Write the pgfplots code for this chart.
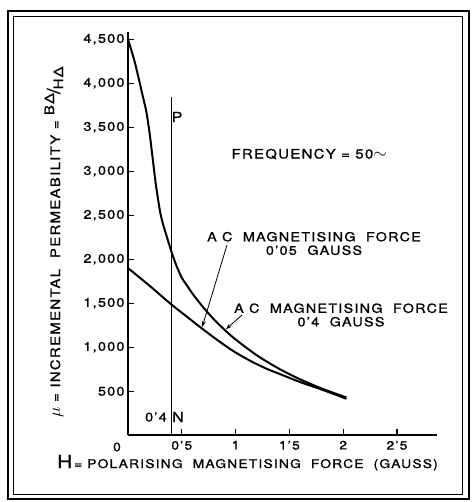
\documentclass[border=0pt]{standalone}
\usepackage{fontspec}
\setmainfont[FakeStretch=1.15,LetterSpace=10,FakeBold=1]{TeX Gyre Heros}
\usepackage{pgfplots}
\pgfplotsset{compat=1.18}
\usetikzlibrary{arrows.meta}
\begin{document}
\begin{tikzpicture}
\useasboundingbox (0,0) rectangle (471pt,-502pt);
\draw[line width=2pt] (8pt,-11pt) rectangle (469pt,-499pt);
\draw[line width=1pt] (13.5pt,-16.5pt) rectangle (462.5pt,-494.5pt);
\begin{axis}[
 at={(128pt,-435.3pt)}, anchor=south west,
 width=309pt, height=403.3pt, scale only axis,
 xmin=0, xmax=2.872, ymin=0, ymax=4583,
 axis x line=bottom, axis y line=left,
 axis line style={line width=2pt,-},
 xtick={0.5,1,1.5,2,2.5}, xticklabels={0’5,1,1’5,2,2’5},
 ytick={500,1000,...,4500},
 yticklabels={500,{1,000},{1,500},{2,000},{2,500},{3,000},{3,500},{4,000},{4,500}},
 tick align=inside, major tick length=6pt,
 tick style={line width=1.2pt,black},
 xticklabel style={font=\fontsize{12}{14}\selectfont, yshift=-2pt},
 yticklabel style={font=\fontsize{12.5}{15}\selectfont},
 clip=false,
]
% AC magnetising force 0.05 gauss (upper curve)
\addplot[line width=2pt, smooth] coordinates {
(0,4500) (0.065,4230) (0.14,3840) (0.17,3680) (0.20,3440) (0.23,3140)
(0.26,2840) (0.30,2530) (0.33,2380) (0.35,2300) (0.39,2140) (0.44,1960)
(0.50,1790) (0.55,1700) (0.60,1609) (0.70,1453) (0.80,1316) (0.90,1196)
(1.00,1089) (1.20,907) (1.40,759) (1.60,636) (1.80,532) (2.03,430)};
% AC magnetising force 0.4 gauss (lower curve)
\addplot[line width=2pt, smooth] coordinates {
(0,1900) (0.20,1700) (0.39,1500) (0.55,1345) (0.67,1230) (0.80,1110)
(0.95,980) (1.05,905) (1.17,825) (1.30,750) (1.41,697) (1.60,605)
(1.80,520) (2.03,415)};
% line PN
\addplot[line width=0.8pt] coordinates {(0.4,0) (0.4,3840)};
\draw[-{Stealth[length=6pt,width=4pt]}, line width=0.8pt] (axis cs:0.92,2162) -- (axis cs:0.69,1232);
\draw[-{Stealth[length=6pt,width=4pt]}, line width=0.8pt] (axis cs:1.06,1367) -- (axis cs:0.91,1205);
\end{axis}
\node[font=\fontsize{12}{14}\selectfont] at (117pt,-447pt) {0};
\node[font=\fontsize{14}{16}\selectfont] at (177pt,-117pt) {P};
\node[font=\fontsize{12.5}{15}\selectfont] at (156pt,-417pt) {0’4};
\node[font=\fontsize{14}{16}\selectfont] at (178pt,-417pt) {N};
\node[anchor=west, font=\fontsize{13}{15}\selectfont] at (228pt,-154pt) {FREQUENCY = 50{\fontsize{16}{16}\selectfont$\sim$}};
\node[font=\fontsize{12.5}{13.5}\selectfont, align=center, inner sep=0pt] at (314pt,-243.5pt) {A C\ \ MAGNETISING\ \ FORCE\\0’05\ \ GAUSS};
\node[font=\fontsize{12.5}{13.5}\selectfont, align=center, inner sep=0pt] at (341pt,-315pt) {A C\ \ MAGNETISING\ \ FORCE\\0’4\ \ GAUSS};
\node[anchor=base, font=\fontsize{12}{15}\selectfont] at (247.5pt,-468pt) {{\fontsize{18}{20}\selectfont H}\,= POLARISING\ \ MAGNETISING\ \ FORCE\ \ (GAUSS)};
\node[anchor=base, rotate=90, font=\fontsize{13}{16}\selectfont] at (60pt,-242pt) {{\fontsize{17}{18}\selectfont$\mu$} = INCREMENTAL\ \ PERMEABILITY = \raisebox{6pt}{BΔ}\kern-1pt{\fontsize{18}{20}\selectfont/}\kern-1pt\raisebox{-3pt}{HΔ}};
\end{tikzpicture}
\end{document}
